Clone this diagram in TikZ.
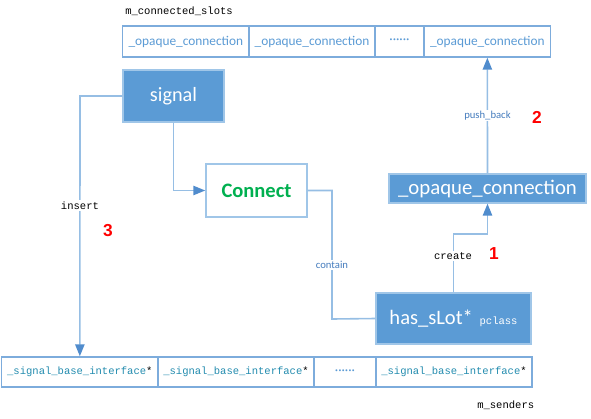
\documentclass[tikz,border=0pt]{standalone}
\usepackage{fontspec}
\setmainfont{Carlito}
\setmonofont{Liberation Mono}
\newfontfamily\numfont{Liberation Sans}
\usetikzlibrary{arrows.meta}
\definecolor{boxblue}{RGB}{91,155,213}
\definecolor{cellborder}{RGB}{125,172,220}
\definecolor{lightborder}{RGB}{160,198,232}
\definecolor{linecol}{RGB}{150,190,228}
\definecolor{tipcol}{RGB}{80,140,205}
\definecolor{celltext}{RGB}{91,155,213}
\definecolor{lbltext}{RGB}{70,125,190}
\definecolor{tealtext}{RGB}{35,140,175}
\definecolor{greentext}{RGB}{0,176,80}
\begin{document}
\begin{tikzpicture}[x=0.75pt,y=-0.75pt,
  cell/.style={draw=cellborder,line width=1.1pt,fill=white,inner sep=0pt,minimum height=#1},
  topcell/.style={cell=31*0.75pt,text=celltext,font=\fontsize{10}{12}\selectfont},
  botcell/.style={cell=30*0.75pt,text=tealtext,font=\ttfamily\fontsize{7.9}{9}\selectfont},
  bluebox/.style={draw=lightborder,line width=1pt,fill=boxblue,text=white,inner sep=0pt},
  conn/.style={draw=linecol,line width=1.2pt},
  arr/.style={conn,-{Triangle[length=9pt,width=7pt,color=tipcol]}},
  lbl/.style={fill=white,inner sep=1pt,text=lbltext,font=\fontsize{8}{9}\selectfont},
  monolbl/.style={fill=white,inner sep=1pt,text=black,font=\ttfamily\fontsize{7.9}{9}\selectfont},
  numlbl/.style={text=red,font=\numfont\bfseries\fontsize{13}{15}\selectfont,inner sep=0pt},
  plainmono/.style={text=black,font=\ttfamily\fontsize{7.9}{9}\selectfont,inner sep=0pt}
]
\useasboundingbox (0,0) rectangle (591,418);

% top array
\node[plainmono,anchor=west] (topname) at (125,11) {m\_connected\_slots};
\node[topcell,minimum width=126.3*0.75pt] (a1) at (185.85,41.5) {\_opaque\_connection};
\node[topcell,minimum width=126*0.75pt] (a2) at (312,41.5) {\_opaque\_connection};
\node[topcell,minimum width=49*0.75pt] (a3) at (399.5,41.5) {\textperiodcentered\textperiodcentered\textperiodcentered\textperiodcentered\textperiodcentered\textperiodcentered};
\node[topcell,minimum width=126.7*0.75pt] (a4) at (487.35,41.5) {\_opaque\_connection};

% bottom array
\node[botcell,minimum width=156.3*0.75pt] (b1) at (79.85,372) {\_signal\_base\_interface\textcolor{black}{*}};
\node[botcell,minimum width=156*0.75pt] (b2) at (236,372) {\_signal\_base\_interface\textcolor{black}{*}};
\node[botcell,minimum width=62*0.75pt,text=celltext,font=\fontsize{10}{12}\selectfont] (b3) at (345,372) {\textperiodcentered\textperiodcentered\textperiodcentered\textperiodcentered\textperiodcentered\textperiodcentered};
\node[botcell,minimum width=156*0.75pt] (b4) at (454,372) {\_signal\_base\_interface\textcolor{black}{*}};
\node[plainmono,anchor=west] (botname) at (477,405) {m\_senders};

% main boxes
\node[bluebox,minimum width=101*0.75pt,minimum height=52*0.75pt,font=\fontsize{15.2}{18}\selectfont] (signal) at (173.5,96) {signal};
\node[draw=lightborder,line width=1.1pt,fill=white,inner sep=0pt,minimum width=101*0.75pt,minimum height=53*0.75pt,text=greentext,font=\bfseries\fontsize{15.4}{18}\selectfont] (connect) at (256.5,190.5) {Connect};
\node[bluebox,minimum width=197*0.75pt,minimum height=29*0.75pt,font=\fontsize{15.6}{18}\selectfont] (opq) at (487.5,188.5) {\_opaque\_connection};
\node[bluebox,minimum width=155*0.75pt,minimum height=51*0.75pt] (hasslot) at (453.5,318.5) {{\fontsize{15.4}{18}\selectfont has\_sLot*}\hspace{5pt}{\ttfamily\fontsize{7.9}{9}\selectfont pclass}};

% helper coordinates
\coordinate (c1) at (80,96);
\coordinate (c2) at (332,319);
\coordinate (c3) at (487.5,234);

% connectors
\draw[arr] (signal.south) |- (connect.west);
\draw[arr] (signal.west) -- (c1) -- node[monolbl,pos=0.42] {insert} (b1.north);
\draw[conn] (connect.east) -| (c2) -- (hasslot.west);
\node[lbl] at (332,265) {contain};
\draw[arr] (hasslot.north) |- (c3) -- (opq.south);
\node[monolbl] at (453,256) {create};
\draw[arr] (opq.north) -- node[lbl,pos=0.5] {push\_back} (a4.south);

% numbers
\node[numlbl] (n1) at (494,254) {1};
\node[numlbl] (n2) at (537,117) {2};
\node[numlbl] (n3) at (108,231) {3};
\end{tikzpicture}
\end{document}
